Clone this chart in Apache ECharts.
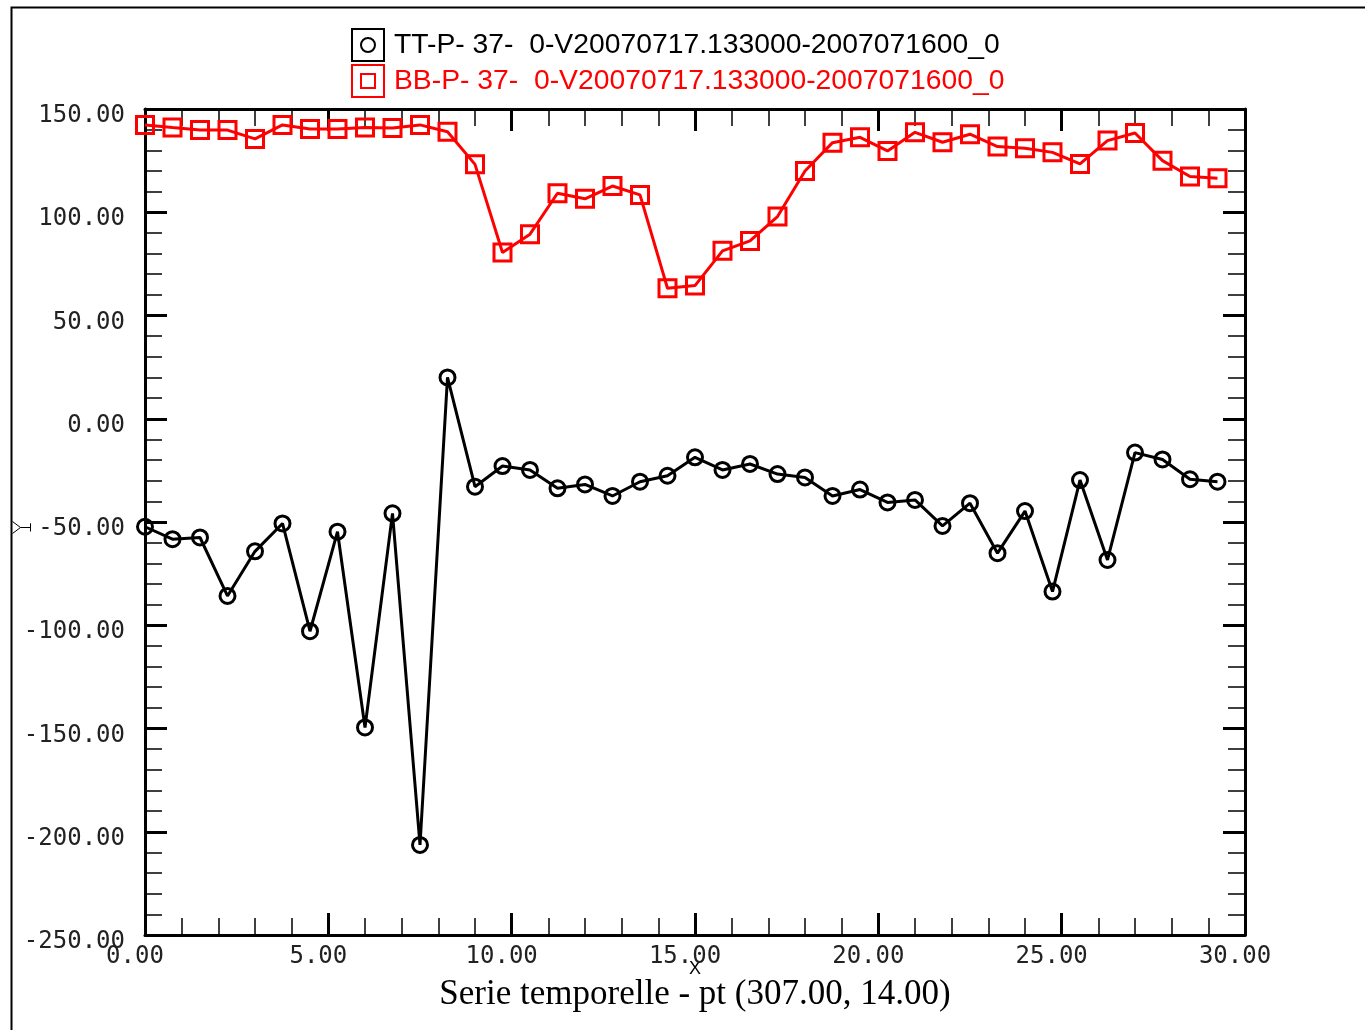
<!DOCTYPE html>
<html>
<head>
<meta charset="utf-8">
<title>Serie temporelle</title>
<script src="https://cdn.jsdelivr.net/npm/echarts@6/dist/echarts.min.js"></script>
<style>
  html, body { margin: 0; padding: 0; background: #fff; }
  #chart { width: 1365px; height: 1030px; }
</style>
</head>
<body>
<div id="chart"></div>
<script>
// Time positions of the samples (x axis)
const xPositions = [0, 0.75, 1.5, 2.25, 3, 3.75, 4.5, 5.25, 6, 6.75,
  7.5, 8.25, 9, 9.75, 10.5, 11.25, 12, 12.75, 13.5, 14.25,
  15, 15.75, 16.5, 17.25, 18, 18.75, 19.5, 20.25, 21, 21.75,
  22.5, 23.25, 24, 24.75, 25.5, 26.25, 27, 27.75, 28.5, 29.25];

// TT series values
const ttValues = [-52.3, -58.3, -57.5, -85.8, -64.2, -50.7, -102.9, -54.7, -149.5, -45.8,
  -206.4, 20.0, -32.9, -22.9, -24.8, -33.7, -31.8, -37.4, -30.5, -27.6,
  -18.7, -24.8, -21.9, -26.8, -28.4, -37.4, -34.3, -40.5, -39.3, -51.9,
  -40.9, -65.1, -44.7, -83.7, -29.7, -68.4, -16.4, -19.7, -29.3, -30.5];

// BB series values
const bbValues = [142.3, 141.0, 139.8, 139.8, 135.5, 142.3, 140.3, 140.3, 141.1, 140.8,
  142.3, 139.0, 123.2, 80.5, 89.4, 109.2, 106.5, 112.7, 108.4, 63.2,
  64.5, 81.3, 86.1, 97.9, 120.0, 133.7, 136.3, 129.7, 138.7, 133.9,
  137.8, 131.8, 131.0, 129.0, 123.4, 134.7, 138.4, 125.0, 117.3, 116.5];

const ttName = 'TT-P- 37-  0-V20070717.133000-2007071600_0';
const bbName = 'BB-P- 37-  0-V20070717.133000-2007071600_0';
const xTitle = 'Serie temporelle - pt (307.00, 14.00)';

const pairs = (xs, ys) => xs.map((x, i) => [x, ys[i]]);

const monoFont = '"DejaVu Sans Mono", "Liberation Mono", monospace';
const tickStyle = { color: '#000', width: 3 };
const minorStyle = { color: '#000', width: 1.5 };

function valueAxisBase(extra) {
  return Object.assign({
    type: 'value',
    axisLine: { show: true, onZero: false, lineStyle: { color: '#000', width: 3 } },
    axisTick: { show: true, inside: true, length: 22, lineStyle: tickStyle },
    minorTick: { show: true, splitNumber: 5, length: 17, lineStyle: minorStyle },
    splitLine: { show: false },
    minorSplitLine: { show: false }
  }, extra);
}

const chart = echarts.init(document.getElementById('chart'), null, { renderer: 'canvas' });

chart.setOption({
  backgroundColor: '#fff',
  animation: false,
  grid: { left: 145, right: 120, top: 109, bottom: 95, containLabel: false },
  legend: {
    orient: 'vertical',
    left: 351,
    top: 28,
    padding: 0,
    itemWidth: 32,
    itemHeight: 32,
    itemGap: 2,
    selectedMode: false,
    textStyle: { fontFamily: '"Liberation Sans", Arial, sans-serif', fontSize: 28.3, color: '#000', padding: [0, 0, 0, 5] },
    data: [
      {
        name: ttName,
        icon: 'path://M0,0H32V32H0Z M16,9A7,7 0 1,1 15.99,9Z',
        itemStyle: { color: 'rgba(0,0,0,0)', borderColor: '#000', borderWidth: 2 },
        textStyle: { color: '#000' }
      },
      {
        name: bbName,
        icon: 'path://M0,0H32V32H0Z M9,9H23V23H9Z',
        itemStyle: { color: 'rgba(0,0,0,0)', borderColor: '#ff0000', borderWidth: 2 },
        textStyle: { color: '#ff0000' }
      }
    ]
  },
  xAxis: [
    valueAxisBase({
      position: 'bottom',
      min: 0, max: 30, interval: 5,
      axisLabel: {
        show: true, margin: 10, color: '#222',
        fontFamily: monoFont, fontSize: 24,
        padding: [0, 20, 0, 0],
        formatter: v => v.toFixed(2)
      },
      name: '{x|X}\n{t|' + xTitle + '}',
      nameLocation: 'middle',
      nameGap: 27,
      nameMoveOverlap: false,
      nameTextStyle: {
        rich: {
          x: { fontFamily: '"Liberation Sans", Arial, sans-serif', fontSize: 18, color: '#000', lineHeight: 14 },
          t: { fontFamily: '"Liberation Serif", "Times New Roman", serif', fontSize: 35, color: '#000', lineHeight: 38, textShadowColor: '#000', textShadowBlur: 0, textShadowOffsetX: 0.6 }
        }
      }
    }),
    valueAxisBase({
      position: 'top',
      min: 0, max: 30, interval: 5,
      axisLabel: { show: false }
    })
  ],
  yAxis: [
    valueAxisBase({
      position: 'left',
      min: -250, max: 150, interval: 50,
      axisLabel: {
        show: true, margin: 20,
        formatter: v => '{v|' + v.toFixed(2) + '}',
        rich: {
          v: { color: '#222', fontFamily: monoFont, fontSize: 24, padding: [14, 0, 0, 0] }
        }
      }
    }),
    valueAxisBase({
      position: 'right',
      min: -250, max: 150, interval: 50,
      axisLabel: { show: false }
    })
  ],
  series: [
    {
      name: ttName,
      type: 'line',
      xAxisIndex: 0,
      yAxisIndex: 0,
      data: pairs(xPositions, ttValues),
      symbol: 'circle',
      symbolSize: 15,
      lineStyle: { color: '#000', width: 3 },
      itemStyle: { color: 'rgba(0,0,0,0)', borderColor: '#000', borderWidth: 3 },
      z: 3
    },
    {
      name: bbName,
      type: 'line',
      xAxisIndex: 0,
      yAxisIndex: 0,
      data: pairs(xPositions, bbValues),
      symbol: 'rect',
      symbolSize: 17,
      lineStyle: { color: '#ff0000', width: 3 },
      itemStyle: { color: 'rgba(0,0,0,0)', borderColor: '#ff0000', borderWidth: 3 },
      z: 3
    }
  ],
  graphic: [
    {
      // outer window frame
      type: 'rect',
      left: 9, top: 5,
      shape: { width: 1400, height: 1100 },
      style: { fill: 'none', stroke: '#000', lineWidth: 2 },
      silent: true
    },
    {
      // cursor marker at the left edge
      type: 'polyline',
      left: 10, top: 519,
      shape: { points: [[0, 0], [8, 6], [0, 12]] },
      style: { fill: 'none', stroke: '#000', lineWidth: 1 },
      silent: true
    },
    {
      type: 'polyline',
      left: 18, top: 521,
      shape: { points: [[0, 4], [10, 4], [10, 0], [10, 8]] },
      style: { fill: 'none', stroke: '#000', lineWidth: 1 },
      silent: true
    }
  ]
});
</script>
</body>
</html>
